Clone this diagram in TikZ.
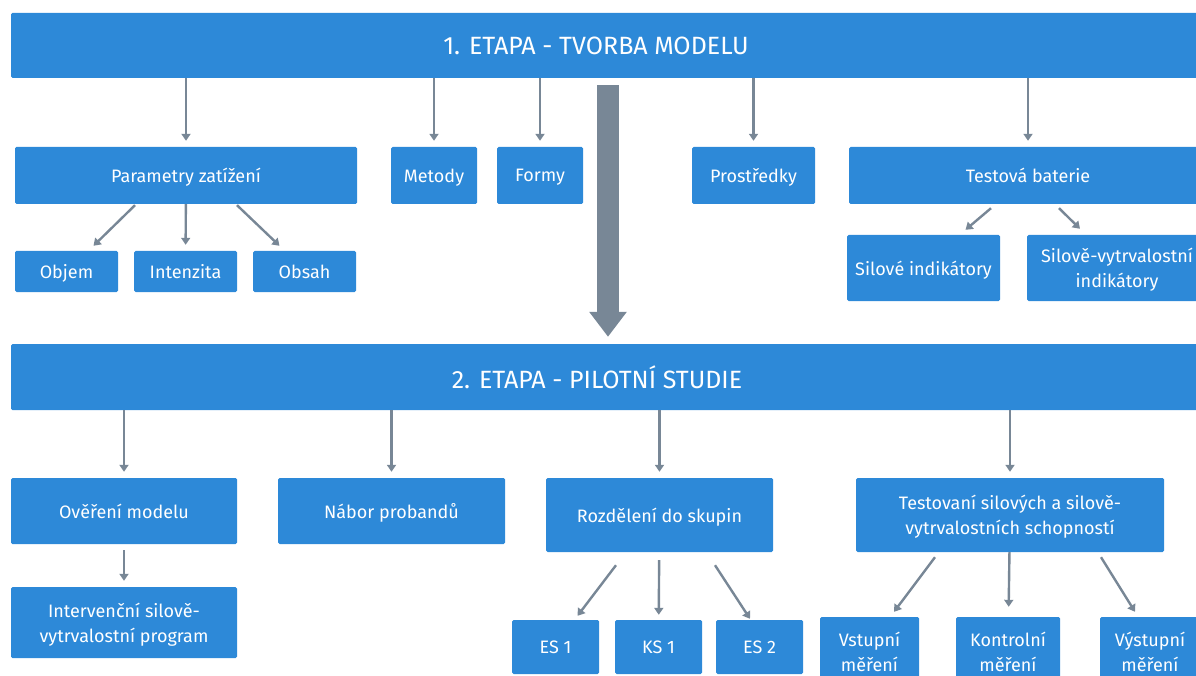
\documentclass[tikz,border=0pt]{standalone}
\usepackage{fontspec}
\setmainfont{Fira Sans}
\usetikzlibrary{arrows.meta}
\definecolor{boxblue}{HTML}{2D89D8}
\definecolor{linkgray}{HTML}{788796}

\begin{document}
\begin{tikzpicture}[
    x=1pt, y=-1pt,
    box/.style={rectangle, fill=boxblue, text=white, rounded corners=1.5pt,
        align=center, inner sep=0pt, text depth=0pt, font=\fontsize{18}{25}\selectfont},
    banner/.style={box, minimum width=1204pt, minimum height=65pt},
    title/.style={text=white, font=\fontsize{25}{30}\selectfont},
    link/.style={draw=linkgray, line width=2.4pt, -{Triangle[width=9pt,length=7pt]}},
    big arrow/.style={draw=linkgray, line width=22pt, -{Triangle[width=36pt,length=25pt]}}
]
\useasboundingbox (0,0) rectangle (1196,676);

% Etapa 1
\node[banner, label={[title, xshift=-17pt]center:1. ETAPA - TVORBA MODELU}] (stage1) at (613,45.5) {};

% Uroven 1
\node[box, minimum width=342pt, minimum height=57pt] (parm) at (186,175.5) {Parametry zatížení};
\node[box, minimum width=86pt, minimum height=57pt] (metody) at (434,175.5) {Metody};
\node[box, minimum width=86pt, minimum height=57pt] (formy) at (540,175.5) {Formy};
\node[box, minimum width=123pt, minimum height=57pt] (prostr) at (753.5,175.5) {Prostředky};
\node[box, minimum width=358pt, minimum height=57pt] (bat) at (1028,175.5) {Testová baterie};

% Uroven 2
\node[box, minimum width=103pt, minimum height=41pt] (objem) at (66.5,271.5) {Objem};
\node[box, minimum width=103pt, minimum height=41pt] (intenz) at (185.5,271.5) {Intenzita};
\node[box, minimum width=103pt, minimum height=41pt] (obsah) at (304.5,271.5) {Obsah};
\node[box, minimum width=153pt, minimum height=66pt] (silove) at (923.5,268) {Silové indikátory};
\node[box, minimum width=180pt, minimum height=66pt] (silvyt) at (1117,268) {Silově-vytrvalostní\\indikátory};

% Etapa 2
\node[banner, minimum height=66pt, label={[title, xshift=-16pt]center:2. ETAPA - PILOTNÍ STUDIE}] (stage2) at (613,377) {};

% Uroven 3
\node[box, minimum width=226pt, minimum height=66pt] (overeni) at (124,511) {Ověření modelu};
\node[box, minimum width=227pt, minimum height=66pt] (nabor) at (391.5,511) {Nábor probandů};
\node[box, minimum width=227pt, minimum height=74pt] (rozdel) at (659.5,515) {Rozdělení do skupin};
\node[box, minimum width=308pt, minimum height=74pt] (testov) at (1010,515) {Testovaní silových a silově-\\vytrvalostních schopností};

% Uroven 4
\node[box, minimum width=226pt, minimum height=71pt] (interv) at (124,622.5) {Intervenční silově-\\vytrvalostní program};
\node[box, minimum width=87pt, minimum height=54pt] (es1) at (555.5,647) {ES 1};
\node[box, minimum width=87pt, minimum height=54pt] (ks1) at (658.5,647) {KS 1};
\node[box, minimum width=87pt, minimum height=54pt] (es2) at (759.5,647) {ES 2};
\node[box, minimum width=99pt, minimum height=70pt] (vstup) at (869.5,652) {Vstupní\\měření};
\node[box, minimum width=104pt, minimum height=70pt] (kontr) at (1008,652) {Kontrolní\\měření};
\node[box, minimum width=100pt, minimum height=70pt] (vystup) at (1150,652) {Výstupní\\měření};

% --- Sipky z etapy 1 ---
\draw[link, shorten >=6pt] (parm |- stage1.south) -- (parm);
\draw[link, shorten >=6pt] (metody |- stage1.south) -- (metody);
\draw[link, shorten >=6pt] (formy |- stage1.south) -- (formy);
\draw[link, shorten >=6pt] (prostr |- stage1.south) -- (prostr);
\draw[link, shorten >=6pt] (bat |- stage1.south) -- (bat);

\draw[link] ([xshift=-51pt,yshift=-1pt]parm.south) -- ([xshift=27pt,yshift=5pt]objem.north);
\draw[link, shorten >=6pt] (parm) -- (intenz);
\draw[link] ([xshift=51pt,yshift=-1pt]parm.south) -- ([xshift=-25pt,yshift=5pt]obsah.north);

\draw[link] ([xshift=-37pt,yshift=-4pt]bat.south) -- ([xshift=42pt,yshift=5pt]silove.north);
\draw[link] ([xshift=31pt,yshift=-4pt]bat.south) -- ([xshift=-37pt,yshift=6pt]silvyt.north);

% --- Velka sipka mezi etapami ---
\draw[big arrow] ([xshift=-5pt,yshift=-7pt]stage1.south) -- ([xshift=-5pt,yshift=7pt]stage2.north);

% --- Sipky z etapy 2 ---
\draw[link, shorten >=6pt] (overeni |- stage2.south) -- (overeni);
\draw[link, shorten >=6pt] (nabor |- stage2.south) -- (nabor);
\draw[link, shorten >=6pt] (rozdel |- stage2.south) -- (rozdel);
\draw[link, shorten >=6pt] (testov |- stage2.south) -- (testov);

\draw[link, shorten <=6pt, shorten >=6pt] (overeni) -- (interv);

\draw[link] ([xshift=-43.5pt,yshift=-13pt]rozdel.south) -- ([xshift=22pt,yshift=4pt]es1.north);
\draw[link, shorten <=8pt, shorten >=5pt] (rozdel) -- (ks1);
\draw[link] ([xshift=55.5pt,yshift=-13pt]rozdel.south) -- ([xshift=-9.5pt,yshift=1pt]es2.north);

\draw[link] ([xshift=-75pt,yshift=-5pt]testov.south) -- ([xshift=24.5pt,yshift=5pt]vstup.north);
\draw[link, shorten >=10pt] (testov) -- (kontr);
\draw[link] ([xshift=91pt,yshift=-5pt]testov.south) -- ([xshift=-15pt,yshift=5pt]vystup.north);

\end{tikzpicture}
\end{document}
